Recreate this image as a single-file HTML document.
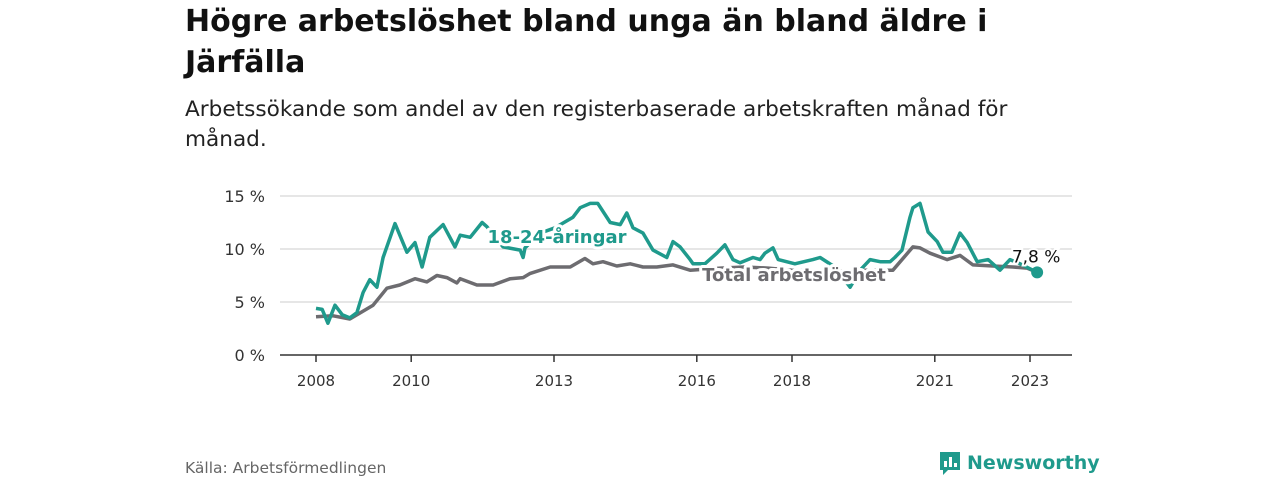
<!DOCTYPE html>
<html><head><meta charset="utf-8"><style>
body{margin:0;width:1280px;height:480px;background:#fff;font-family:"DejaVu Sans","Liberation Sans",sans-serif;overflow:hidden;position:relative}
h1{position:absolute;left:185px;top:1px;margin:0;font-size:30px;line-height:41px;font-weight:bold;color:#111;width:830px}
.sub{position:absolute;left:185px;top:95px;font-size:21.6px;line-height:30px;color:#222;width:850px}
.src{position:absolute;left:185px;top:459px;font-size:15.5px;color:#666}
.logo{position:absolute;left:938px;top:450px;display:flex;align-items:center;gap:5px;color:#1f9a8c;font-weight:bold;font-size:19px}
</style></head><body>
<h1>Högre arbetslöshet bland unga än bland äldre i Järfälla</h1>
<div class="sub">Arbetssökande som andel av den registerbaserade arbetskraften månad för månad.</div>
<svg id="chart" width="1280" height="480" style="position:absolute;left:0;top:0"></svg>
<div class="src">Källa: Arbetsförmedlingen</div>
<div class="logo"><svg width="24" height="26" viewBox="0 0 24 26"><path d="M2 2h20v18H10l-5 5v-5H2z" fill="#1f9a8c"/><rect x="6" y="11" width="3" height="6" fill="#fff"/><rect x="11" y="7" width="3" height="10" fill="#fff"/><rect x="16" y="13" width="3" height="4" fill="#fff"/></svg><span>Newsworthy</span></div>
<script>
const yTicks=[0,5,10,15];
const yTickLabels=["0 %","5 %","10 %","15 %"];
const xTicks=[2008,2010,2013,2016,2018,2021,2023];
const youthDates=[2008.0,2008.13,2008.25,2008.4,2008.55,2008.71,2008.86,2008.99,2009.13,2009.28,2009.41,2009.66,2009.91,2010.08,2010.23,2010.39,2010.67,2010.92,2011.03,2011.24,2011.49,2011.59,2011.93,2012.29,2012.35,2012.39,2012.71,2013.02,2013.4,2013.55,2013.76,2013.92,2014.18,2014.39,2014.53,2014.66,2014.87,2015.08,2015.37,2015.5,2015.65,2015.86,2015.92,2016.17,2016.42,2016.59,2016.76,2016.91,2017.18,2017.33,2017.43,2017.6,2017.71,2018.06,2018.44,2018.59,2018.9,2019.22,2019.43,2019.64,2019.85,2020.06,2020.16,2020.31,2020.48,2020.54,2020.69,2020.86,2021.05,2021.17,2021.36,2021.53,2021.68,2021.89,2022.12,2022.37,2022.58,2022.79,2023.15];
const youthValues=[4.4,4.3,3.0,4.7,3.8,3.5,4.0,5.9,7.1,6.4,9.2,12.4,9.7,10.6,8.3,11.1,12.3,10.2,11.3,11.1,12.5,12.1,10.2,9.9,9.2,10.1,11.5,12.0,13.0,13.9,14.3,14.3,12.5,12.3,13.4,12.0,11.5,9.9,9.2,10.7,10.2,9.0,8.6,8.6,9.6,10.4,9.0,8.7,9.2,9.0,9.6,10.1,9.0,8.6,9.0,9.2,8.3,6.4,8.0,9.0,8.8,8.8,9.2,9.9,13.0,13.9,14.3,11.6,10.7,9.7,9.7,11.5,10.6,8.8,9.0,8.0,9.0,8.6,7.8];
const totalDates=[2008.0,2008.36,2008.71,2009.2,2009.49,2009.76,2010.08,2010.33,2010.54,2010.75,2010.96,2011.03,2011.38,2011.72,2012.08,2012.35,2012.5,2012.92,2013.34,2013.65,2013.82,2014.03,2014.32,2014.6,2014.87,2015.16,2015.5,2015.86,2016.5,2017.0,2017.5,2018.0,2018.5,2019.0,2019.5,2020.12,2020.54,2020.69,2020.9,2021.26,2021.53,2021.8,2022.22,2022.64,2022.94,2023.15];
const totalValues=[3.6,3.7,3.4,4.7,6.3,6.6,7.2,6.9,7.5,7.3,6.8,7.2,6.6,6.6,7.2,7.3,7.7,8.3,8.3,9.1,8.6,8.8,8.4,8.6,8.3,8.3,8.5,8.0,8.2,8.3,8.2,8.0,7.9,7.9,8.0,8.0,10.2,10.1,9.6,9.0,9.4,8.5,8.4,8.3,8.2,7.8];
const NS="http://www.w3.org/2000/svg";
const svg=document.getElementById('chart');
const X0=280,X1=1072,Y0=355;
const x=y=>316+(y-2008)*47.6;
const yv=v=>Y0-v*10.6;
function mk(t,a){const e=document.createElementNS(NS,t);for(const k in a)e.setAttribute(k,a[k]);svg.appendChild(e);return e;}
yTicks.forEach((t,i)=>{
  if(t>0){const g=mk('line',{x1:X0,x2:X1,y1:yv(t),y2:yv(t),stroke:'#ddd','stroke-width':1.5});
  
  }
  const l=mk('text',{x:265,y:yv(t)+6,'text-anchor':'end','font-size':16,fill:'#333'});l.textContent=yTickLabels[i];
  
  
});
const ax=mk('line',{x1:X0,x2:X1,y1:Y0,y2:Y0,stroke:'#333','stroke-width':1.5});


xTicks.forEach(t=>{
  const tk=mk('line',{x1:x(t),x2:x(t),y1:Y0,y2:Y0+7,stroke:'#333','stroke-width':1.5});
  
  
  const l=mk('text',{x:x(t),y:386,'text-anchor':'middle','font-size':15,fill:'#333'});l.textContent=t;
  
  
});
function path(d,v){return d.map((t,i)=>(i?'L':'M')+x(t).toFixed(1)+','+yv(v[i]).toFixed(1)).join('');}
const pt=mk('path',{d:path(totalDates,totalValues),fill:'none',stroke:'#6d6c70','stroke-width':3.5,'stroke-linejoin':'round'});


const py=mk('path',{d:path(youthDates,youthValues),fill:'none',stroke:'#1f9a8c','stroke-width':3.5,'stroke-linejoin':'round'});


const lt=mk('text',{x:557,y:243,'text-anchor':'middle','font-size':18,'font-weight':'bold',fill:'#1f9a8c',stroke:'#fff','stroke-width':6,'paint-order':'stroke','stroke-linejoin':'round'});
lt.textContent='18-24-åringar';


const lg=mk('text',{x:794,y:281,'text-anchor':'middle','font-size':18,'font-weight':'bold',fill:'#6d6c70',stroke:'#fff','stroke-width':6,'paint-order':'stroke','stroke-linejoin':'round'});
lg.textContent='Total arbetslöshet';


const lastI=youthValues.length-1;
const dot=mk('circle',{cx:x(youthDates[lastI]),cy:yv(youthValues[lastI]),r:6,fill:'#1f9a8c'});


const vl=mk('text',{x:x(youthDates[lastI])-1,y:yv(youthValues[lastI])-10,'text-anchor':'middle','font-size':17,fill:'#111',stroke:'#fff','stroke-width':4,'paint-order':'stroke'});
vl.textContent=youthValues[lastI].toString().replace('.',',')+' %';


</script>
</body></html>
